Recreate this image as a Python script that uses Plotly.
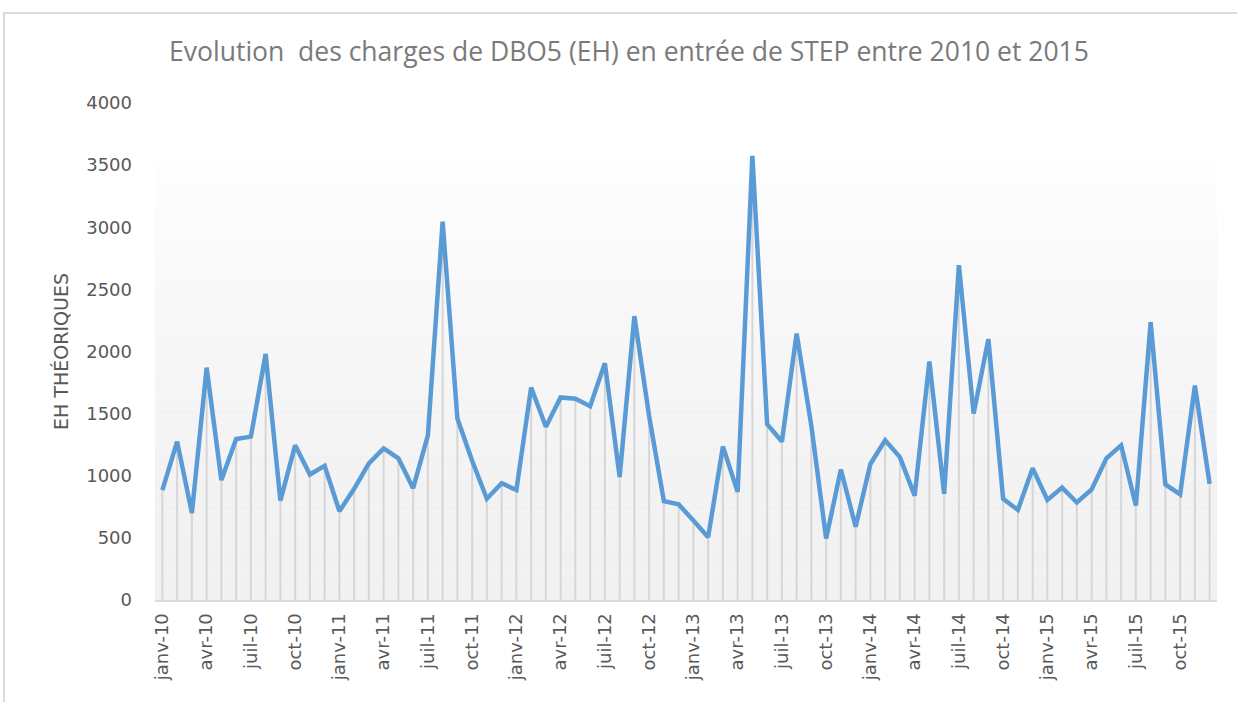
import plotly.graph_objects as go

# Monthly BOD5 load (population equivalents), Jan 2010 – Dec 2015
months = [f"{m}-{y}" for y in ["10", "11", "12", "13", "14", "15"]
          for m in ["janv", "févr", "mars", "avr", "mai", "juin",
                    "juil", "août", "sept", "oct", "nov", "déc"]]

eh_2010 = [885, 1275, 700, 1870, 965, 1295, 1315, 1980, 800, 1245, 1010, 1080]
eh_2011 = [715, 895, 1100, 1220, 1140, 900, 1325, 3045, 1460, 1120, 815, 940]
eh_2012 = [885, 1710, 1395, 1630, 1620, 1560, 1905, 990, 2285, 1480, 795, 770]
eh_2013 = [640, 505, 1235, 870, 3575, 1415, 1275, 2145, 1400, 495, 1050, 590]
eh_2014 = [1095, 1285, 1150, 840, 1920, 855, 2695, 1500, 2100, 815, 725, 1060]
eh_2015 = [805, 905, 785, 890, 1140, 1245, 760, 2235, 930, 850, 1725, 935]
eh_values = eh_2010 + eh_2011 + eh_2012 + eh_2013 + eh_2014 + eh_2015

tick_every = 3
y_ticks = [0, 500, 1000, 1500, 2000, 2500, 3000, 3500, 4000]

W, H = 1237, 702
L, R, T, B = 155, 20, 103, 102
plot_w, plot_h = W - L - R, H - T - B

FONT = "DejaVu Sans"
GREY_TXT = "#595959"

x_idx = list(range(len(eh_values)))

fig = go.Figure()

# vertical drop lines from each point to the axis
drop_x, drop_y = [], []
for i, v in zip(x_idx, eh_values):
    drop_x += [i, i, None]
    drop_y += [0, v, None]
fig.add_trace(go.Scatter(
    x=drop_x, y=drop_y, mode="lines",
    line=dict(color="#d6d6d6", width=2),
    hoverinfo="skip", showlegend=False,
))

fig.add_trace(go.Scatter(
    x=x_idx, y=eh_values, mode="lines",
    line=dict(color="#5B9BD5", width=4.5, shape="linear"),
    customdata=months,
    hovertemplate="%{customdata}: %{y}<extra></extra>",
    showlegend=False,
))

# soft vertical gradient behind the plot area
shapes = []
n_bands = 60
top_val = 3560
for k in range(n_bands):
    y0 = top_val * k / n_bands
    y1 = top_val * (k + 1) / n_bands
    t = (k + 0.5) / n_bands
    g = round(241 + (254 - 241) * t ** 1.6)
    shapes.append(dict(
        type="rect", xref="x domain", yref="y",
        x0=0, x1=1, y0=y0, y1=y1,
        fillcolor=f"rgb({g},{g},{g})", line=dict(width=0), layer="below",
    ))

# outer chart frame
shapes.append(dict(
    type="rect", xref="paper", yref="paper",
    x0=(4 - L) / plot_w, x1=(W + 10 - L) / plot_w,
    y0=(H - B - (H + 10)) / plot_h, y1=(H - B - 13) / plot_h,
    line=dict(color="#d9d9d9", width=2), fillcolor="rgba(0,0,0,0)", layer="below",
))

fig.update_layout(
    width=W, height=H,
    margin=dict(l=L, r=R, t=T, b=B),
    paper_bgcolor="white", plot_bgcolor="white",
    shapes=shapes,
    title=dict(
        text="Evolution  des charges de DBO5 (EH) en entrée de STEP entre 2010 et 2015",
        x=629 / W, xref="container", xanchor="center",
        y=1 - 52 / H, yref="container", yanchor="middle",
        font=dict(family="Open Sans", size=26.5, color="#7a7a7a"),
    ),
    xaxis=dict(
        range=[-0.5, len(eh_values) - 0.5],
        tickmode="array",
        tickvals=x_idx[::tick_every],
        ticktext=months[::tick_every],
        tickangle=-90,
        tickfont=dict(family=FONT, size=18, color=GREY_TXT),
        showgrid=False, zeroline=False,
        showline=True, linecolor="#d9d9d9", linewidth=2,
        ticks="", ticklabelstandoff=4,
    ),
    yaxis=dict(
        range=[0, 4000],
        tickmode="array", tickvals=y_ticks,
        tickfont=dict(family=FONT, size=18, color=GREY_TXT),
        showgrid=False, zeroline=False, showline=False,
        ticks="", ticklabelstandoff=22,
        title=dict(text="EH THÉORIQUES",
                   font=dict(family=FONT, size=19, color=GREY_TXT),
                   standoff=12),
    ),
)

fig.write_html("out.html")
